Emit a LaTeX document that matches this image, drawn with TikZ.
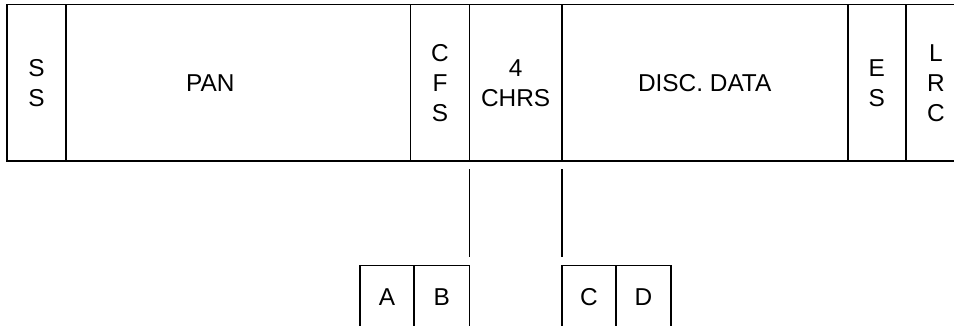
\documentclass[tikz,border=0pt]{standalone}
\usepackage{fontspec}
\setmainfont{Liberation Sans}
\usetikzlibrary{positioning}
\tikzset{
  field/.style={rectangle, draw=black, line width=0.8pt, inner sep=0pt, outer sep=0pt,
    minimum height=78.2pt, align=center, font=\fontsize{12.2}{15}\selectfont},
  subfield/.style={rectangle, draw=black, line width=0.8pt, inner sep=0pt, outer sep=0pt,
    minimum height=32pt, font=\fontsize{12.2}{15}\selectfont},
  tap/.style={line width=0.8pt, shorten <=4pt, shorten >=4pt},
}

\begin{document}
\begin{tikzpicture}
  \useasboundingbox (0,0) rectangle (477pt,-163pt);

  % track record fields
  \node[field, minimum width=29.5pt, anchor=north west] (ss) at (3.5pt,-2.35pt) {S\\S};
  \node[field, minimum width=172.25pt, right=0pt of ss]   (pan)  {PAN\hspace*{28pt}};
  \node[field, minimum width=29.5pt, right=0pt of pan]    (cfs)  {C\\F\\S};
  \node[field, minimum width=46.1pt, right=0pt of cfs]    (chrs) {4\\CHRS};
  \node[field, minimum width=143pt, right=0pt of chrs]    (disc) {DISC. DATA};
  \node[field, minimum width=29.15pt, right=0pt of disc]  (es)   {E\\S};
  \node[field, minimum width=30pt, right=0pt of es]       (lrc)  {L\\R\\C};

  % the four characters
  \node[subfield, minimum width=27.75pt, below=52.15pt of chrs.south west, anchor=north east] (b) {B};
  \node[subfield, minimum width=27pt, left=0pt of b]  (a) {A};
  \node[subfield, minimum width=27.15pt, below=52.15pt of chrs.south east, anchor=north west] (c) {C};
  \node[subfield, minimum width=27.5pt, right=0pt of c] (d) {D};

  \draw[tap] (chrs.south west) -- (b.north east);
  \draw[tap] (chrs.south east) -- (c.north west);
\end{tikzpicture}
\end{document}
